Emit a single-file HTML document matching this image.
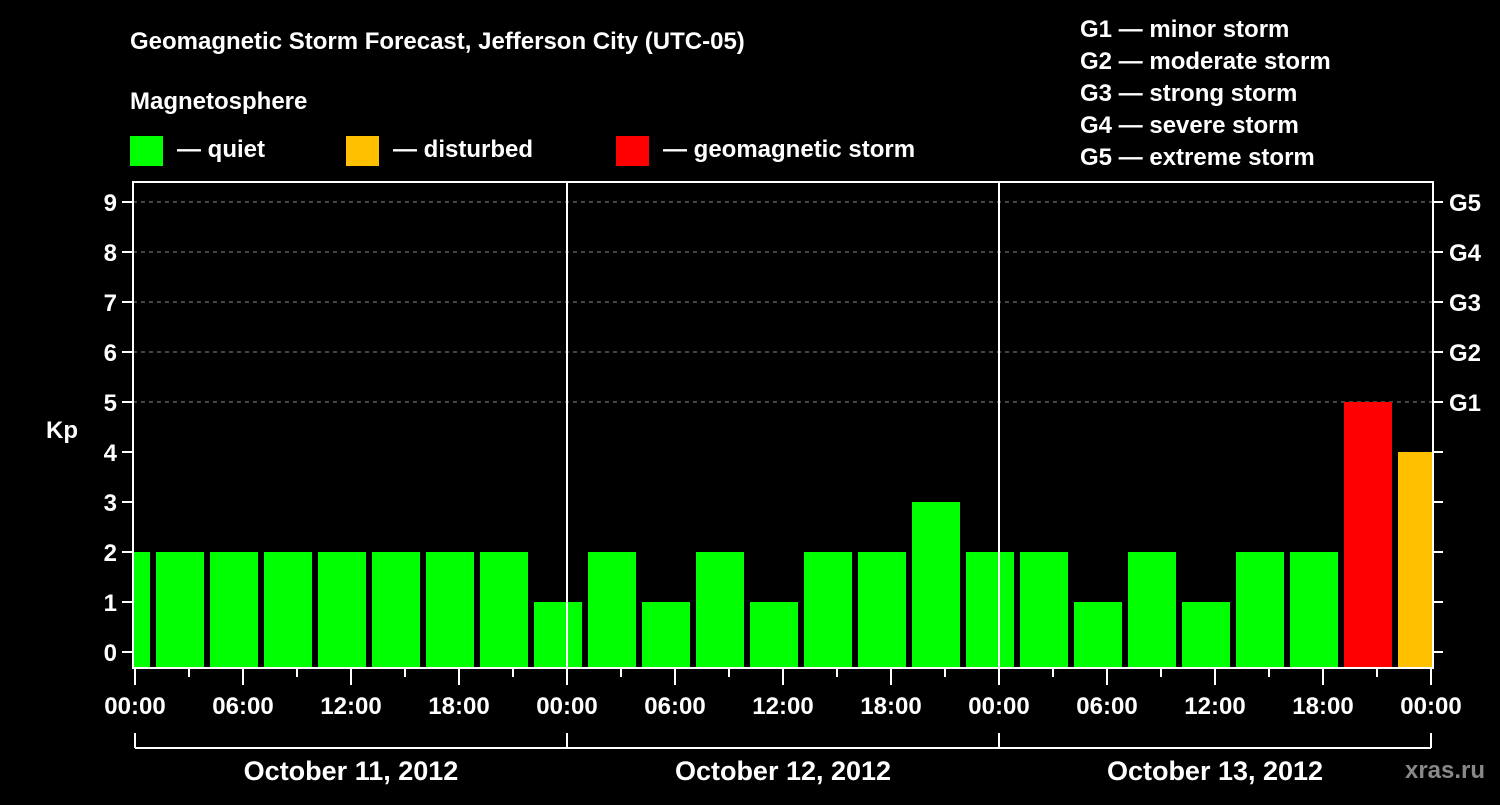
<!DOCTYPE html>
<html><head><meta charset="utf-8"><style>
body{margin:0;background:#000}
svg text{font-family:"Liberation Sans",Arial,sans-serif;font-weight:bold;fill:#fff}
</style></head><body>
<svg width="1500" height="800" viewBox="0 0 1500 800" id="c">
<rect width="1500" height="800" fill="#000"/>
<text x="130" y="49" font-size="24">Geomagnetic Storm Forecast, Jefferson City (UTC-05)</text>
<text x="130" y="109" font-size="24">Magnetosphere</text>
<rect x="130" y="136" width="33" height="30" fill="#00ff00"/>
<text x="177" y="157" font-size="24">— quiet</text>
<rect x="346" y="136" width="33" height="30" fill="#ffc000"/>
<text x="393" y="157" font-size="24">— disturbed</text>
<rect x="616" y="136" width="33" height="30" fill="#ff0000"/>
<text x="663" y="157" font-size="24">— geomagnetic storm</text>
<g font-size="24">
<text x="1080" y="37">G1 — minor storm</text>
<text x="1080" y="69">G2 — moderate storm</text>
<text x="1080" y="101">G3 — strong storm</text>
<text x="1080" y="133">G4 — severe storm</text>
<text x="1080" y="165">G5 — extreme storm</text>
</g>
<text x="62" y="438" font-size="24" text-anchor="middle">Kp</text>
<g id="plot"></g>
<text x="1445" y="778" font-size="24" fill="#888" style="fill:#888" text-anchor="middle">xras.ru</text>
</svg>
<script>
const kpValues=[2,2,2,2,2,2,2,2,1,2,1,2,1,2,2,3,2,2,1,2,1,2,2,5,4];
const firstBarStartHour=-2;
const yTicks=[0,1,2,3,4,5,6,7,8,9];
const gLabels=["G1","G2","G3","G4","G5"];
const dayLabels=["October 11, 2012","October 12, 2012","October 13, 2012"];
const timeLabels=["00:00","06:00","12:00","18:00"];
const NS="http://www.w3.org/2000/svg";
const g=document.getElementById('plot');
const L=133,R=1433,T=182,B=668;
const x=h=>135+h*18;
const y=v=>652-v*50;
function el(t,a,p){const e=document.createElementNS(NS,t);for(const k in a)e.setAttribute(k,a[k]);(p||g).appendChild(e);return e;}
const clip=el('clipPath',{id:'pc'});el('rect',{x:L+1,y:T,width:R-L-2,height:B-T},clip);
// grid
for(let v=5;v<=9;v++){const l=el('line',{x1:L,x2:R,y1:y(v),y2:y(v),stroke:'#888','stroke-dasharray':'4,4','stroke-width':1});

}
// bars
const bg=el('g',{'clip-path':'url(#pc)'});
kpValues.forEach((v,i)=>{const s=firstBarStartHour+i*3;const col=v>=5?'#ff0000':(v>=4?'#ffc000':'#00ff00');
const r=el('rect',{x:x(s)+3,y:y(v),width:48,height:B-y(v),fill:col},bg);

});
// midnight lines
for(let d=1;d<3;d++){el('line',{x1:x(d*24),x2:x(d*24),y1:T,y2:B,stroke:'#fff','stroke-width':2});}
// frame
el('rect',{x:L,y:T,width:R-L,height:B-T,fill:'none',stroke:'#fff','stroke-width':2});
// y ticks
yTicks.forEach(v=>{el('line',{x1:122,x2:L,y1:y(v),y2:y(v),stroke:'#fff','stroke-width':2});
el('line',{x1:R,x2:R+10,y1:y(v),y2:y(v),stroke:'#fff','stroke-width':2});
const t=el('text',{x:117,y:y(v)+9,'font-size':24,'text-anchor':'end'});t.textContent=v;

});
gLabels.forEach((s,i)=>{const t=el('text',{x:1449,y:y(5+i)+9,'font-size':24});t.textContent=s;

});
// x ticks
for(let h=0;h<=72;h+=3){const major=h%6===0;el('line',{x1:x(h),x2:x(h),y1:B,y2:major?685:677,stroke:'#fff','stroke-width':2});
if(major){const t=el('text',{x:x(h),y:714,'font-size':24,'text-anchor':'middle'});t.textContent=timeLabels[(h/6)%4];

}}
// day brackets
el('line',{x1:x(0),x2:x(72),y1:748,y2:748,stroke:'#fff','stroke-width':2});
for(let d=0;d<=3;d++)el('line',{x1:x(d*24),x2:x(d*24),y1:733,y2:748,stroke:'#fff','stroke-width':2});
dayLabels.forEach((s,d)=>{const t=el('text',{x:x(d*24+12),y:780,'font-size':27,'text-anchor':'middle'});t.textContent=s;

});
</script>
</body></html>
